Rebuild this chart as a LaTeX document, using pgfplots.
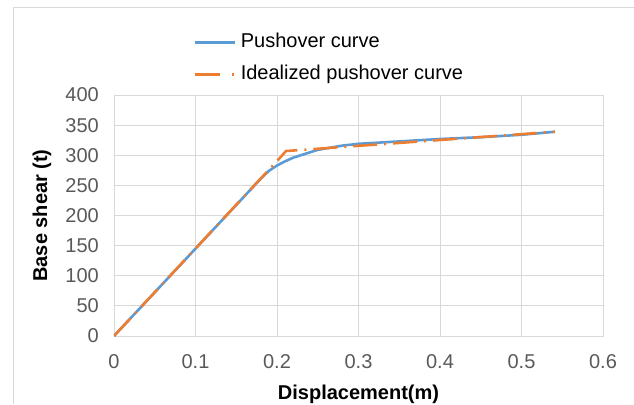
\documentclass[border=0pt]{standalone}
\usepackage{pgfplots}
\pgfplotsset{compat=1.18}
\usepackage{fontspec}
\setmainfont{Liberation Sans}
\definecolor{xlblue}{HTML}{5B9BD5}
\definecolor{xlorange}{HTML}{ED7D31}
\definecolor{xlgrid}{HTML}{D9D9D9}
\definecolor{xltick}{HTML}{595959}
\pgfplotsset{idealleg/.style={legend image code/.code={%
  \draw[xlorange, line width=2.6pt, dash pattern=on 25bp off 12bp on 2bp off 10bp] (0bp,0bp) -- (40bp,0bp);}}}
\begin{document}
\begin{tikzpicture}
\begin{axis}[
  scale only axis,
  width=489bp, height=241bp,
  xmin=0, xmax=0.6, ymin=0, ymax=400,
  xtick={0,0.1,...,0.6}, ytick={0,50,...,400},
  xticklabels={0,0.1,0.2,0.3,0.4,0.5,0.6},
  grid=major,
  grid style={xlgrid, line width=0.9pt},
  axis line style={xlgrid, line width=0.9pt},
  major tick length=0pt,
  tick label style={font=\fontsize{20bp}{24bp}\selectfont, text=xltick, inner sep=0pt},
  xticklabel style={anchor=center, yshift=-26bp},
  yticklabel style={anchor=east, xshift=-15bp},
  /pgf/number format/assume math mode=true,
  xlabel={\textbf{Displacement(m)}},
  ylabel={\textbf{Base shear (t)}},
  label style={font=\fontsize{20bp}{24bp}\selectfont, inner sep=0pt, anchor=center},
  xlabel style={at={(axis description cs:0.5,-0.2407)}},
  ylabel style={at={(axis description cs:-0.1472,0.5)}},
  legend style={draw=none, fill=none, at={(axis description cs:0.1616,1.257)}, anchor=north west,
    inner sep=0pt, font=\fontsize{20bp}{24bp}\selectfont, row sep=14bp, column sep=5bp,
    nodes={inner sep=0pt, text height=14bp, text depth=4bp}, cells={anchor=west}},
  legend cell align=left,
  legend image code/.code={\draw[#1] (0bp,0bp) -- (40bp,0bp);},
]
\addplot[xlblue, line width=2.6pt] coordinates {
  (0,0) (0.1,145) (0.18,261) (0.19,274) (0.2,283) (0.21,290)
  (0.22,296) (0.25,309) (0.28,316) (0.3,319) (0.35,323) (0.4,327)
  (0.45,330) (0.5,334) (0.541,339)
};
\addlegendentry{Pushover curve}
\addplot[xlorange, line width=2.6pt, dash pattern=on 24bp off 7bp on 2bp off 7bp, idealleg] coordinates {
  (0,0) (0.2025,294) (0.211,307) (0.541,339)
};
\addlegendentry{Idealized pushover curve}
\coordinate (bbsw) at (axis description cs:-0.2331,-0.2822);
\coordinate (bbne) at (axis description cs:1.0634,1.3942);
\coordinate (fr) at (axis description cs:-0.2065,1.365);
\end{axis}
\draw[xlgrid, line width=1bp] (fr |- bbsw) -- (fr) -- (fr -| bbne);
\pgfresetboundingbox
\useasboundingbox (bbsw) rectangle (bbne);
\end{tikzpicture}
\end{document}
